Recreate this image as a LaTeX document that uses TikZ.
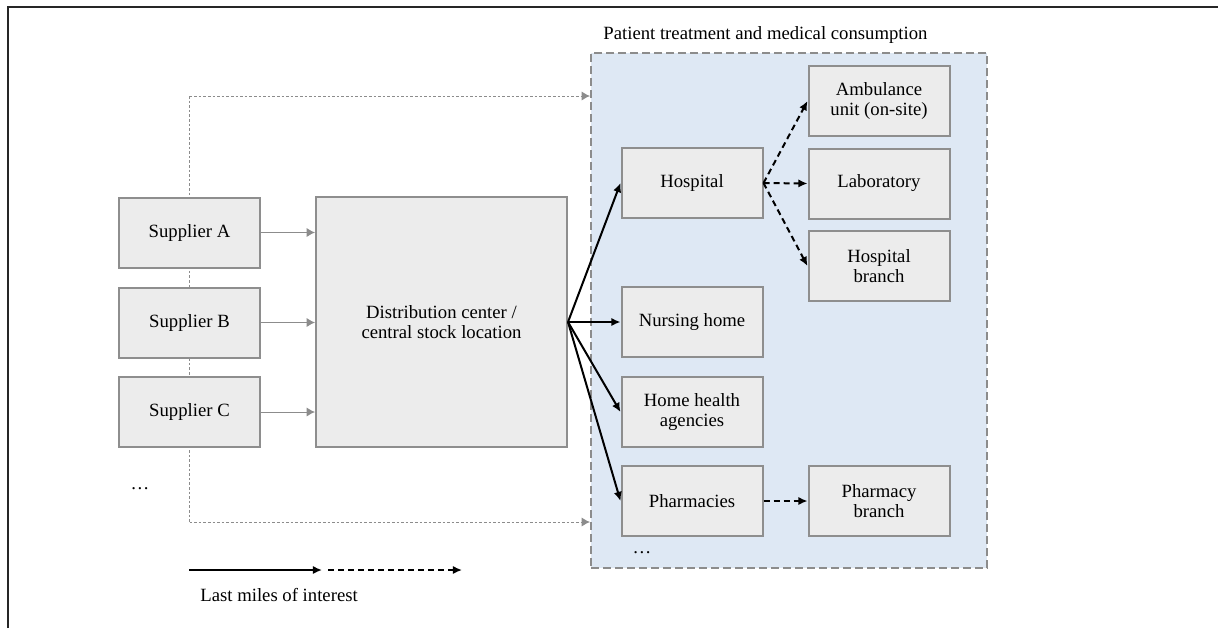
\documentclass[tikz,border=0pt]{standalone}
\usepackage{fontspec}
\setmainfont{Liberation Serif}
\usepackage{xcolor}
\usetikzlibrary{arrows.meta}
\definecolor{boxfill}{HTML}{ECECEC}
\definecolor{boxline}{HTML}{8E8E8E}
\definecolor{careblue}{HTML}{DEE8F4}
\definecolor{feedgray}{HTML}{8C8C8C}

\begin{document}
\begin{tikzpicture}[x=0.5pt,y=-0.5pt,>={Latex[length=4.6pt,width=4.2pt]}]
\tikzset{
    unit/.style={%
        draw=boxline, line width=1pt,
        fill=boxfill,
        rectangle,
        inner sep=2pt,
        align=center,
        font=\fontsize{9.35}{10.3}\selectfont,
        minimum height=35pt,
        minimum width=70.5pt
        },
    care/.style={%
        draw=feedgray, line width=1pt,
        dash pattern=on 4pt off 2pt,
        fill=careblue,
        rectangle,
        minimum height=257.5pt,
        minimum width=198pt
        },
    plain/.style={font=\fontsize{9.35}{10.3}\selectfont, inner sep=0pt},
    feed/.style={draw=feedgray, line width=0.5pt, dash pattern=on 1.3pt off 1pt},
    supply/.style={draw=feedgray, line width=0.5pt},
    graytip/.style={-{Latex[length=4.2pt,width=4.6pt,fill=feedgray]}},
    lastmile/.style={draw=black, line width=1pt},
    branch/.style={lastmile, dash pattern=on 3pt off 2pt},
}
\useasboundingbox (0,0) rectangle (1218,628);
%%%FRAME
\draw[line width=0.6pt, black!85] (8,628) -- (8,7) -- (1218,7);
%%%CONSUMPTION AREA
\node[care] (area) at (789,310.5) {};
\node[plain, anchor=west] (areatitle) at (603,35) {Patient treatment and medical consumption};
%%%SUPPLIERS
\coordinate (feedtop) at (189.5,96);
\coordinate (feedbot) at (189.5,522);
\draw[feed] (feedtop) -- (feedbot);
\node[unit] (sA) at (189.5,232.5) {Supplier A};
\node[unit] (sB) at (189.5,322.5) {Supplier B};
\node[unit] (sC) at (189.5,412) {Supplier C};
\node[plain] (moresup) at (140,489) {\ldots};
\draw[feed, graytip] (feedtop) -- (area.west |- feedtop);
\draw[feed, graytip] (feedbot) -- (area.west |- feedbot);
%%%DISTRIBUTION
\node[unit, minimum width=125.5pt, minimum height=125pt] (dc) at (441.5,322)
    {Distribution center /\\central stock location};
\foreach \s in {sA,sB,sC}
    \draw[supply, graytip] (\s.east) -- (\s.east -| dc.west);
%%%CARE FACILITIES
\node[unit] (hosp) at (692,183) {Hospital};
\node[unit] (nurse) at (692,322) {Nursing home};
\node[unit] (home) at (692,412) {Home health\\agencies};
\node[unit] (pharm) at (692,501) {Pharmacies};
\node[plain] (morecare) at (642,553) {\ldots};
\node[unit] (amb) at (879,101) {Ambulance\\unit (on-site)};
\node[unit] (lab) at (879,183.5) {Laboratory};
\node[unit] (hbranch) at (879,266) {Hospital\\branch};
\node[unit] (pbranch) at (879,501) {Pharmacy\\branch};
%%%LAST MILES
\foreach \t in {hosp,nurse,home,pharm}
    \draw[lastmile,->] (dc.east) -- (\t.west);
\foreach \t in {amb,lab,hbranch}
    \draw[branch,->] (hosp.east) -- (\t.west);
\draw[branch,->] (pharm.east) -- (pbranch.west);
%%%LEGEND
\coordinate (legA) at (189,570);
\coordinate (legB) at (322,570);
\coordinate (legC) at (328,570);
\coordinate (legD) at (462,570);
\draw[lastmile,->] (legA) -- (legB);
\draw[branch,->] (legC) -- (legD);
\node[plain, anchor=west] (legtext) at (200,595) {Last miles of interest};
\end{tikzpicture}
\end{document}
